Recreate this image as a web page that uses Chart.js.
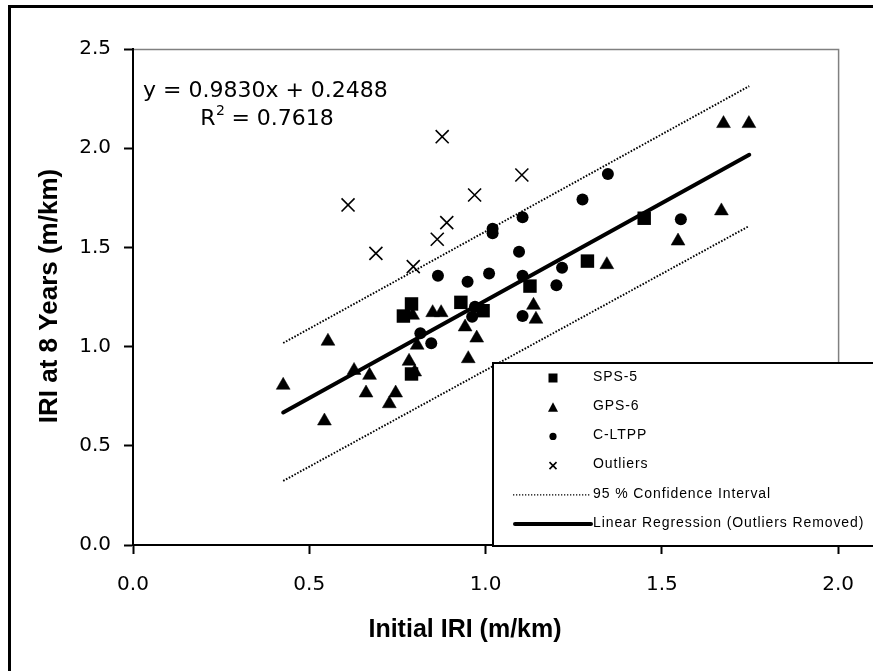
<!DOCTYPE html>
<html>
<head>
<meta charset="utf-8">
<title>IRI at 8 Years vs Initial IRI</title>
<script src="https://cdn.jsdelivr.net/npm/chart.js@4.4.1/dist/chart.umd.min.js"></script>
<style>
  html, body { margin: 0; padding: 0; background: #fff; }
</style>
</head>
<body>
<canvas id="chart_iri8years" width="873" height="671"></canvas>
<script>
// values (m/km)
const sps5X = [0.767, 0.790, 0.790, 0.930, 0.993, 1.126, 1.289, 1.450];
const sps5Y = [1.154, 1.215, 0.862, 1.223, 1.181, 1.305, 1.431, 1.647];

const gps6X = [0.426, 0.543, 0.553, 0.627, 0.661, 0.671, 0.727, 0.745, 0.783, 0.793, 0.799, 0.806,
               0.850, 0.874, 0.942, 0.951, 0.975, 1.136, 1.143, 1.344, 1.546, 1.669, 1.675, 1.747];
const gps6Y = [0.805, 0.625, 1.027, 0.880, 0.766, 0.855, 0.712, 0.766, 0.926, 1.158, 0.872, 1.007,
               1.171, 1.171, 1.099, 0.939, 1.043, 1.208, 1.138, 1.413, 1.532, 1.684, 2.124, 2.124];

const cltppX = [0.815, 0.846, 0.865, 0.949, 0.962, 0.970, 1.010, 1.020, 1.020, 1.095, 1.105, 1.105,
                1.105, 1.201, 1.217, 1.275, 1.347, 1.554];
const cltppY = [1.067, 1.017, 1.357, 1.327, 1.151, 1.201, 1.369, 1.594, 1.571, 1.478, 1.652, 1.357,
                1.154, 1.309, 1.398, 1.742, 1.870, 1.642];

const outlierX = [0.610, 0.689, 0.795, 0.863, 0.877, 0.890, 0.969, 1.103];
const outlierY = [1.714, 1.470, 1.403, 1.541, 2.058, 1.625, 1.764, 1.865];

const lineX = [0.426, 1.748];
const regressionY = [0.668, 1.967];
const ciUpperY = [1.018, 2.313];
const ciLowerY = [0.323, 1.608];

const xTickValues = [0, 0.5, 1.0, 1.5, 2.0];
const yTickValues = [0, 0.5, 1.0, 1.5, 2.0, 2.5];

const equationText = 'y = 0.9830x + 0.2488';
const r2Value = ' = 0.7618';
const xTitle = 'Initial IRI (m/km)';
const yTitle = 'IRI at 8 Years (m/km)';
const legendItems = [
  { style: 'rect', text: 'SPS-5' },
  { style: 'triangle', text: 'GPS-6' },
  { style: 'circle', text: 'C-LTPP' },
  { style: 'cross', text: 'Outliers' },
  { style: 'dotted', text: '95 % Confidence Interval' },
  { style: 'solid', text: 'Linear Regression (Outliers Removed)' }
];

function pairs(xs, ys) {
  return xs.map((x, i) => ({ x: x, y: ys[i] }));
}

function drawSymbol(ctx, style, x, y) {
  ctx.fillStyle = '#000';
  ctx.strokeStyle = '#000';
  ctx.beginPath();
  if (style === 'rect') {
    ctx.fillRect(x - 4.5, y - 4.5, 9, 9);
  } else if (style === 'triangle') {
    ctx.moveTo(x, y - 5);
    ctx.lineTo(x + 5, y + 4.5);
    ctx.lineTo(x - 5, y + 4.5);
    ctx.closePath();
    ctx.fill();
  } else if (style === 'circle') {
    ctx.arc(x, y, 3.6, 0, Math.PI * 2);
    ctx.fill();
  } else if (style === 'cross') {
    ctx.lineWidth = 1.6;
    ctx.moveTo(x - 3.5, y - 3.5); ctx.lineTo(x + 3.5, y + 3.5);
    ctx.moveTo(x + 3.5, y - 3.5); ctx.lineTo(x - 3.5, y + 3.5);
    ctx.stroke();
  } else if (style === 'dotted') {
    ctx.lineWidth = 1.3;
    ctx.setLineDash([1.3, 1.7]);
    ctx.moveTo(513, y); ctx.lineTo(590, y);
    ctx.stroke();
    ctx.setLineDash([]);
  } else if (style === 'solid') {
    ctx.lineWidth = 4;
    ctx.lineCap = 'round';
    ctx.moveTo(515, y); ctx.lineTo(591, y);
    ctx.stroke();
  }
}

const framePlugin = {
  id: 'framePlugin',
  beforeDraw: (chart) => {
    const ctx = chart.ctx;
    const a = chart.chartArea;
    ctx.save();
    ctx.fillStyle = '#fff';
    ctx.fillRect(0, 0, chart.width, chart.height);
    ctx.strokeStyle = '#000';
    ctx.lineWidth = 3;
    ctx.beginPath();
    ctx.moveTo(9.5, chart.height);
    ctx.lineTo(9.5, 6.5);
    ctx.lineTo(chart.width, 6.5);
    ctx.stroke();
    ctx.strokeStyle = '#808080';
    ctx.lineWidth = 1.5;
    ctx.beginPath();
    ctx.moveTo(a.left, a.top + 0.5);
    ctx.lineTo(a.right + 0.5, a.top + 0.5);
    ctx.lineTo(a.right + 0.5, a.bottom);
    ctx.stroke();
    ctx.restore();
  },
  afterDatasetsDraw: (chart) => {
    const ctx = chart.ctx;
    ctx.save();
    // legend box
    ctx.fillStyle = '#fff';
    ctx.fillRect(493, 363, 400, 183);
    ctx.strokeStyle = '#000';
    ctx.lineWidth = 2;
    ctx.strokeRect(493, 363, 400, 183);
    ctx.font = '14px "Liberation Sans", Arial, sans-serif';
    if ('letterSpacing' in ctx) ctx.letterSpacing = '0.9px';
    ctx.textBaseline = 'middle';
    ctx.textAlign = 'left';
    legendItems.forEach((item, i) => {
      const y = 377 + i * 29.2;
      ctx.save();
      drawSymbol(ctx, item.style, 553, y + 1);
      ctx.restore();
      ctx.fillStyle = '#000';
      ctx.fillText(item.text, 593, y);
    });
    if ('letterSpacing' in ctx) ctx.letterSpacing = '0px';

    // regression equation
    ctx.fillStyle = '#000';
    ctx.textBaseline = 'alphabetic';
    ctx.font = '22px "DejaVu Sans", sans-serif';
    ctx.fillText(equationText, 143, 97);
    const wR = ctx.measureText('R').width;
    const wRest = ctx.measureText(r2Value).width;
    ctx.font = '14px "DejaVu Sans", sans-serif';
    const wSup = ctx.measureText('2').width;
    const startX = 267 - (wR + wSup + wRest) / 2;
    ctx.font = '22px "DejaVu Sans", sans-serif';
    ctx.fillText('R', startX, 125);
    ctx.fillText(r2Value, startX + wR + wSup, 125);
    ctx.font = '14px "DejaVu Sans", sans-serif';
    ctx.fillText('2', startX + wR + 0.5, 115);
    ctx.restore();
  },
  afterDraw: (chart) => {
    const ctx = chart.ctx;
    ctx.save();
    ctx.fillStyle = '#000';
    ctx.textAlign = 'center';
    ctx.textBaseline = 'middle';
    ctx.font = 'bold 25px "Liberation Sans", Arial, sans-serif';
    ctx.fillText(xTitle, 465, 630);
    ctx.translate(50, 296);
    ctx.rotate(-Math.PI / 2);
    ctx.font = 'bold 26px "Liberation Sans", Arial, sans-serif';
    ctx.fillText(yTitle, 0, 0);
    ctx.restore();
  }
};

const tickFont = { family: '"DejaVu Sans", sans-serif', size: 20 };

const chart_iri8years = new Chart(document.getElementById('chart_iri8years'), {
  type: 'scatter',
  data: {
    datasets: [
      {
        label: 'Linear Regression (Outliers Removed)',
        data: pairs(lineX, regressionY),
        showLine: true,
        borderColor: '#000',
        borderWidth: 4,
        borderCapStyle: 'round',
        pointRadius: 0
      },
      {
        label: '95 % Confidence Interval',
        data: pairs(lineX, ciUpperY),
        showLine: true,
        borderColor: '#000',
        borderWidth: 1.9,
        borderDash: [1.6, 1.6],
        pointRadius: 0
      },
      {
        label: '95 % Confidence Interval (lower)',
        data: pairs(lineX, ciLowerY),
        showLine: true,
        borderColor: '#000',
        borderWidth: 1.9,
        borderDash: [1.6, 1.6],
        pointRadius: 0
      },
      {
        label: 'SPS-5',
        data: pairs(sps5X, sps5Y),
        pointStyle: 'rect',
        pointRadius: 9.5,
        backgroundColor: '#000',
        borderColor: '#000',
        borderWidth: 0
      },
      {
        label: 'GPS-6',
        data: pairs(gps6X, gps6Y),
        pointStyle: 'triangle',
        pointRadius: 8,
        backgroundColor: '#000',
        borderColor: '#000',
        borderWidth: 0.5
      },
      {
        label: 'C-LTPP',
        data: pairs(cltppX, cltppY),
        pointStyle: 'circle',
        pointRadius: 6,
        backgroundColor: '#000',
        borderColor: '#000',
        borderWidth: 0
      },
      {
        label: 'Outliers',
        data: pairs(outlierX, outlierY),
        pointStyle: 'crossRot',
        pointRadius: 9.2,
        backgroundColor: '#000',
        borderColor: '#000',
        borderWidth: 1.6
      }
    ]
  },
  options: {
    animation: false,
    responsive: false,
    devicePixelRatio: 1,
    layout: { padding: { left: 0, top: 49, right: 26, bottom: 0 } },
    plugins: {
      legend: { display: false },
      tooltip: { enabled: false },
      title: { display: false }
    },
    scales: {
      x: {
        type: 'linear',
        min: 0,
        max: 2,
        afterBuildTicks: (scale) => { scale.ticks = xTickValues.map(v => ({ value: v })); },
        afterFit: (scale) => { scale.height = 126; },
        grid: { drawOnChartArea: false, drawTicks: true, tickLength: 9, tickColor: '#000', tickWidth: 2 },
        border: { display: true, color: '#000', width: 2 },
        ticks: {
          color: '#000',
          padding: 19,
          font: tickFont,
          maxRotation: 0,
          autoSkip: false,
          callback: (v) => Number(v).toFixed(1)
        }
      },
      y: {
        type: 'linear',
        min: 0,
        max: 2.5,
        afterBuildTicks: (scale) => { scale.ticks = yTickValues.map(v => ({ value: v })); },
        afterFit: (scale) => { scale.width = 133; },
        grid: { drawOnChartArea: false, drawTicks: true, tickLength: 9, tickColor: '#000', tickWidth: 2 },
        border: { display: true, color: '#000', width: 2 },
        ticks: {
          color: '#000',
          padding: 13,
          font: tickFont,
          autoSkip: false,
          callback: (v) => Number(v).toFixed(1)
        }
      }
    }
  },
  plugins: [framePlugin]
});
</script>
</body>
</html>
